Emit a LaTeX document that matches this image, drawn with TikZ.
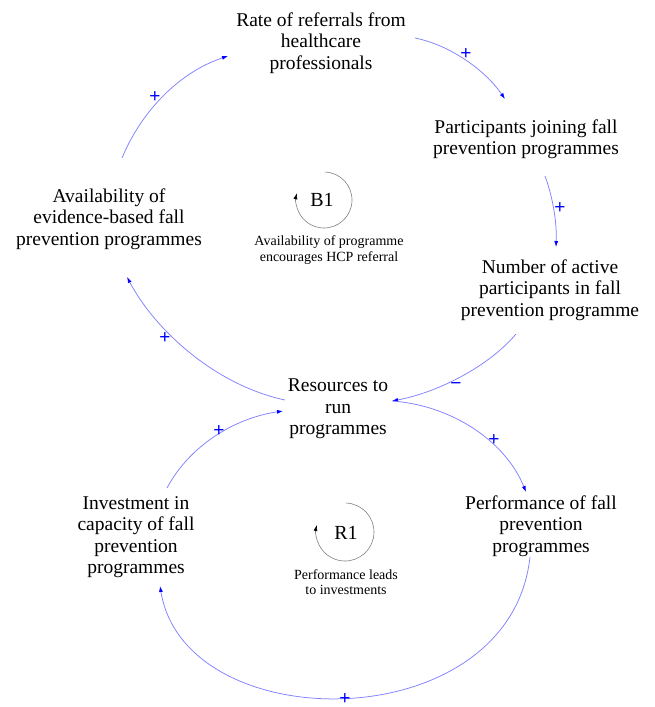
\documentclass[tikz,border=0pt]{standalone}
\usepackage{fontspec}
\setmainfont{Liberation Serif}
\newfontfamily\signfont{Liberation Sans}
\usetikzlibrary{arrows.meta}
\begin{document}
\begin{tikzpicture}[x=1pt,y=-1pt,
 var/.style={align=center, font=\fontsize{19.5}{21.5}\selectfont, inner sep=0pt},
 note/.style={align=center, font=\fontsize{14}{15.5}\selectfont, inner sep=0pt},
 looplabel/.style={font=\fontsize{20}{22}\selectfont, inner sep=0pt},
 link/.style={draw=blue!50, line width=0.75pt, -{Latex[length=6pt,width=4pt,color=blue]}},
 pol/.style={text=blue, font=\signfont\fontsize{19}{19}\selectfont, inner sep=0pt},
 loopline/.style={draw=black!50, line width=0.6pt, -{Latex[length=6pt,width=4pt,color=black]}}]
\useasboundingbox (0,0) rectangle (654,707);

% variables
\node[var] (rate) at (321,43) {Rate of referrals from\\healthcare\\professionals};
\node[var] (join) at (526,139) {Participants joining fall\\prevention programmes};
\node[var] (avail) at (109,219) {Availability of\\evidence-based fall\\prevention programmes};
\node[var] (active) at (550,290) {Number of active\\participants in fall\\prevention programme};
\node[var] (res) at (338,409) {Resources to\\run\\programmes};
\node[var] (perf) at (541,526) {Performance of fall\\prevention\\programmes};
\node[var] (inv) at (136,537) {Investment in\\capacity of fall\\prevention\\programmes};

% loop markers
\coordinate (b1c) at (324,200);
\draw[loopline] (b1c) ++(-88:28) arc[start angle=-88, end angle=194, radius=28];
\node[looplabel] (b1) at (322,200) {B1};
\node[note] (b1note) at (329,250) {Availability of programme\\encourages HCP referral};

\coordinate (r1c) at (345,532);
\draw[loopline] (r1c) ++(-88:29) arc[start angle=-88, end angle=194, radius=29];
\node[looplabel] (r1) at (346,533) {R1};
\node[note] (r1note) at (346,582) {Performance leads\\to investments};

% connector end points
\coordinate (a1s) at (122,158); \coordinate (a1e) at (228,56);
\coordinate (a2s) at (415,38);  \coordinate (a2e) at (505,99);
\coordinate (a3s) at (545,176); \coordinate (a3e) at (556,247);
\coordinate (a4s) at (516,334); \coordinate (a4e) at (392,401);
\coordinate (a5s) at (392,401); \coordinate (a5e) at (526,492);
\coordinate (a6s) at (530,557); \coordinate (a6e) at (160,586);
\coordinate (a7s) at (167,488); \coordinate (a7e) at (283,411);
\coordinate (a8s) at (285,400); \coordinate (a8e) at (127,277);

\draw[link] (a1s) .. controls (142,110) and (180,72) .. (a1e);
\draw[link] (a2s) .. controls (450,45) and (485,70) .. (a2e);
\draw[link] (a3s) .. controls (552,195) and (557,220) .. (a3e);
\draw[link] (a4s) .. controls (490,365) and (440,392) .. (a4e);
\draw[link] (a5s) .. controls (450,405) and (505,440) .. (a5e);
\draw[link] (a6s) .. controls (510,740) and (185,740) .. (a6e);
\draw[link] (a7s) .. controls (190,445) and (235,418) .. (a7e);
\draw[link] (a8s) .. controls (215,385) and (155,330) .. (a8e);

% polarities
\node[pol] (s1) at (155,97) {+};
\node[pol] (s2) at (466,54) {+};
\node[pol] (s3) at (560,208) {+};
\node[pol] (s4) at (456,386) {−};
\node[pol] (s5) at (494,440) {+};
\node[pol] (s6) at (345,699) {+};
\node[pol] (s7) at (219,431) {+};
\node[pol] (s8) at (165,338) {+};
\end{tikzpicture}
\end{document}
